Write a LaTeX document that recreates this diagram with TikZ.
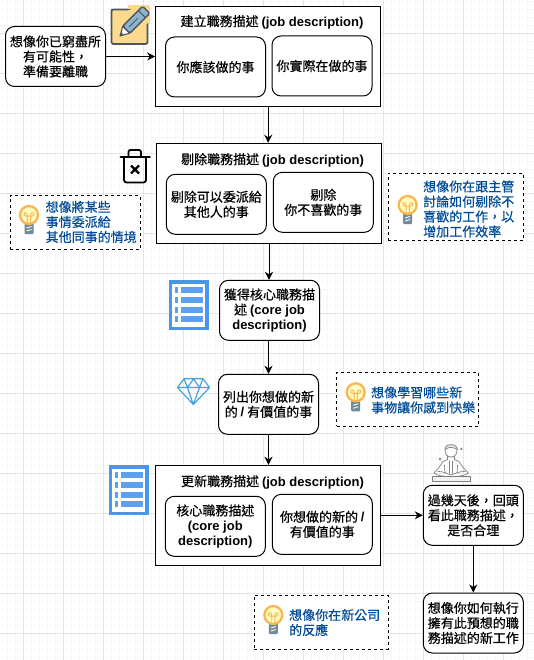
\documentclass[tikz,border=0pt]{standalone}
\usepackage{fontspec}
\setmainfont{Noto Sans CJK TC}[BoldFont={Noto Sans CJK TC},BoldFeatures={FakeBold=0.45},UprightFeatures={FakeBold=0.45}]
\newfontfamily\latfont{Liberation Sans Bold}
\newcommand{\la}[1]{{\latfont #1}}
\usetikzlibrary{arrows.meta}
\definecolor{tipblue}{HTML}{004C99}
\definecolor{listblue}{HTML}{4A96EE}
\definecolor{gemblue}{HTML}{45A5DC}
\definecolor{medgrey}{HTML}{808080}
\definecolor{bulbor}{HTML}{FBB450}
\definecolor{notefill}{HTML}{FCD98C}
\definecolor{penblue}{HTML}{8DB4D2}
\definecolor{icondark}{HTML}{4F5559}
\definecolor{basegrey}{HTML}{6F8A99}
\tikzset{
  x=1pt,y=-1pt,
  every node/.style={font=\fontsize{13}{15}\selectfont,align=center,inner sep=0pt,text=black},
  outerbox/.style={draw=black,line width=1pt,fill=white,minimum width=225pt,minimum height=100pt},
  roundbox/.style={draw=black,line width=1pt,fill=white,rounded corners=9pt,minimum width=100pt,minimum height=60pt},
  tipbox/.style={draw=black,line width=.8pt,dash pattern=on 3pt off 3pt,fill=white},
  tiptext/.style={align=left,anchor=west,text=tipblue},
  conn/.style={draw=black,line width=1pt,-{Stealth[length=8pt,width=8pt,inset=2.5pt]}},
  bulb/.pic={
    \fill[basegrey,rounded corners=1pt] (-4.5,8) rectangle (4.5,19);
    \draw[white,line width=.9pt] (-2.5,13) -- (2.5,11.5) (-2.5,16) -- (2.5,14.5);
    \draw[fill=yellow!25!white,draw=bulbor,line width=2.2pt] (0,0) circle (9);
    \draw[bulbor,line width=.9pt] (-1.6,8) -- (-1.6,1) .. controls (-1.6,-3.5) and (-5.5,-3) .. (-4.8,0) .. controls (-4.4,1.5) and (-2.5,1.5) .. (0,1) .. controls (2.5,1.5) and (4.4,1.5) .. (4.8,0) .. controls (5.5,-3) and (1.6,-3.5) .. (1.6,1) -- (1.6,8);
  },
  listicon/.pic={
    \fill[listblue] (0,0) rectangle (40,50);
    \fill[white] (3.5,3.5) rectangle (36.5,46.5);
    \foreach \yy in {7,17,26.5,36}{
      \fill[listblue!90] (6,\yy) rectangle (9.5,\yy+6);
      \fill[listblue!90] (12.5,\yy) rectangle (34,\yy+6);
    }
  },
}
\begin{document}
\begin{tikzpicture}
\useasboundingbox (0,0) rectangle (534,660);
\fill[white] (0,0) rectangle (534,660);
% grid
\foreach \i in {0,...,67}{\draw[black!3,line width=.6pt] (\i*8-.3,0) -- (\i*8-.3,660);}
\foreach \i in {0,...,83}{\draw[black!3,line width=.6pt] (0,\i*8+1.3) -- (534,\i*8+1.3);}
\foreach \i in {0,...,13}{\draw[black!10,line width=.8pt] (\i*40+23.7,0) -- (\i*40+23.7,660);}
\foreach \i in {0,...,16}{\draw[black!10,line width=.8pt] (0,\i*40+33.3) -- (534,\i*40+33.3);}

% pencil note icon
\draw[draw=icondark,fill=notefill,line width=1.6pt,rounded corners=1.5pt] (111.5,9.5) rectangle (147.5,44);
\fill[notefill] (128,5) -- (150,5) -- (150,24) -- (128,24) -- cycle;
\draw[icondark,line width=1.6pt,line cap=round] (111.5,12) -- (111.5,9.5) -- (130,9.5) (147.5,24) -- (147.5,43);
\begin{scope}[shift={(120,36)},rotate=45]
  \fill[white,draw=icondark,line width=1.1pt,line join=round] (0,0) -- (9,-5) -- (9,5) -- cycle;
  \fill[icondark] (0,0) -- (3.5,-2) -- (3.5,2) -- cycle;
  \draw[fill=penblue,draw=icondark,line width=1.4pt,rounded corners=1.5pt] (9,-5) rectangle (37,5);
  \draw[icondark,line width=1pt] (13,0) -- (25,0) (31,-5) -- (31,5);
\end{scope}

% trash icon
\draw[black,line width=1.8pt,line cap=round] (120.5,157) -- (150,157);
\draw[black,line width=1.8pt,rounded corners=2pt] (128.5,156) -- (128.5,150) -- (141,150) -- (141,156);
\draw[black,line width=1.8pt,rounded corners=2.5pt] (124,157) -- (124,182.5) -- (146,182.5) -- (146,157);
\draw[black,line width=2.2pt] (131,165.5) -- (139,173.5) (139,165.5) -- (131,173.5);

% list icons
\pic at (168.5,280) {listicon};
\pic at (108.5,465.3) {listicon};

% diamond icon
\draw[gemblue,line width=1.2pt,line join=round]
  (177.5,387.5) -- (184,378.8) -- (203,378.8) -- (209.5,387.5) -- (193.3,404.5) -- cycle
  (177.5,387.5) -- (209.5,387.5)
  (184,378.8) -- (187.5,387.5) -- (193.3,404.5) -- (199.5,387.5) -- (203,378.8)
  (187.5,387.5) -- (193.5,379) -- (199.5,387.5);

% meditation icon
\begin{scope}[medgrey,line width=.7pt,line join=round,line cap=round]
  \draw (451,451) circle (6);
  \draw[fill=medgrey!20] (445,449.5) .. controls (444.5,443) and (457.5,443) .. (457.3,449.5) .. controls (453,447) and (449,446.5) .. (445,449.5);
  \draw (447.5,456.5) -- (447.5,459.5) -- (443,461.5) .. controls (441,465) and (437,470) .. (434,473) .. controls (437,476) and (443,476) .. (451,477) .. controls (459,476) and (465,476) .. (468.5,473) .. controls (465,470) and (461,465) .. (459,461.5) -- (454.5,459.5) -- (454.5,456.5);
  \draw (444.5,465) -- (445,473) (457.5,465) -- (457,473) (449.5,461) -- (449.5,473) (452.5,461) -- (452.5,473);
  \draw (438,471.5) .. controls (443,471) and (447,474) .. (451,475) .. controls (455,474) and (459,471) .. (465,471.5);
  \draw[fill=medgrey!10] (432.5,476.5) rectangle (470,481.5);
  \fill (461.3,449) circle (1.3) (440,459) circle (1.3);
\end{scope}

% nodes
\node[roundbox] (start) at (55.5,56.5) {想像你已窮盡所\\有可能性，\\準備要離職};

\node[outerbox] (box1) at (268.2,56.3) {};
\node (t1) at (272,22) {建立職務描述 \la{(job description)}};
\node[roundbox] (a1) at (215.5,67) {你應該做的事};
\node[roundbox] (a2) at (322,66) {你實際在做的事};

\node[outerbox] (box2) at (269,193.3) {};
\node (t2) at (272.5,160) {剔除職務描述 \la{(job description)}};
\node[roundbox] (b1) at (216.3,204.3) {剔除可以委派給\\其他人的事};
\node[roundbox] (b2) at (323.3,202.3) {剔除\\你不喜歡的事};

\node[roundbox] (core) at (269.5,310.3) {獲得核心職務描\\述 \la{(core job}\\\la{description)}};
\node[roundbox] (newv) at (268.5,404.3) {列出你想做的新\\的 \la{/} 有價值的事};

\node[outerbox] (box3) at (268,515.3) {};
\node (t3) at (272.5,482) {更新職務描述 \la{(job description)}};
\node[roundbox] (c1) at (215.3,526.3) {核心職務描述\\\la{(core job}\\\la{description)}};
\node[roundbox] (c2) at (322.3,524.3) {你想做的新的 \la{/}\\有價值的事};

\node[roundbox] (later) at (473.3,515.3) {過幾天後，回頭\\看此職務描述，\\是否合理};
\node[roundbox] (final) at (473.3,623) {想像你如何執行\\擁有此預想的職\\務描述的新工作};

% tips
\node[tipbox,minimum width=130.5pt,minimum height=53.3pt] (d1) at (75.3,222.4) {};
\pic at (29,215) {bulb};
\node[tiptext] (d1t) at (45.5,222) {想像將某些\\事情委派給\\其他同事的情境};

\node[tipbox,minimum width=135.4pt,minimum height=67pt] (d2) at (456,206.8) {};
\pic at (407.7,205) {bulb};
\node[tiptext] (d2t) at (423,209) {想像你在跟主管\\討論如何剔除不\\喜歡的工作，以\\增加工作效率};

\node[tipbox,minimum width=142pt,minimum height=53.6pt] (d3) at (407.5,399.5) {};
\pic at (355.7,392.3) {bulb};
\node[tiptext] (d3t) at (371,400) {想像學習哪些新\\事物讓你感到快樂};

\node[tipbox,minimum width=134pt,minimum height=54pt] (d4) at (321,622) {};
\pic at (273.3,615) {bulb};
\node[tiptext] (d4t) at (289,622.5) {想像你在新公司\\的反應};

% connectors
\draw[conn] (start.east) -- (start.east -| box1.west);
\draw[conn] (box1.south) -- (box1.south |- box2.north);
\draw[conn] (box2.south) -- (box2.south |- core.north);
\draw[conn] (core.south -| newv.north) -- (newv.north);
\draw[conn] (newv.south) -- (newv.south |- box3.north);
\draw[conn] (box3.east) -- (box3.east -| later.west);
\draw[conn] (later.south) -- (final.north);
\end{tikzpicture}
\end{document}
